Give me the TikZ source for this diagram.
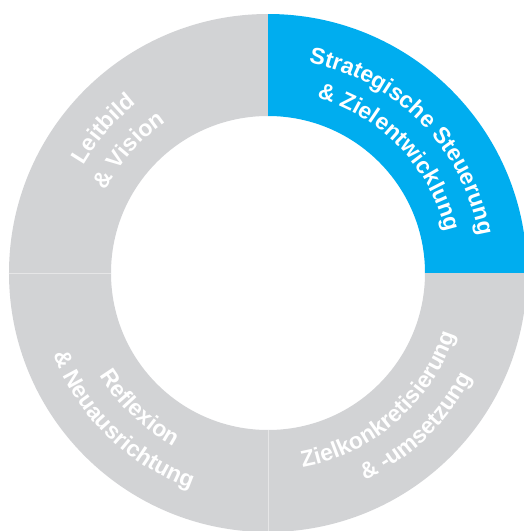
\documentclass[tikz,border=0pt]{standalone}
\usepackage{fontspec}
\setmainfont{Liberation Sans}
\usetikzlibrary{decorations.text}
\definecolor{ringgray}{RGB}{210,211,213}
\definecolor{ringblue}{RGB}{0,173,239}
\newcommand\lblfont{\bfseries\fontsize{23}{27}\selectfont}
% #1 radius, #2 start angle, #3 end angle, #4 text
\newcommand\arclabel[4]{%
  \path[decorate,decoration={text along path,text={|\lblfont|#4},text align=center,text color=white}]
    (#2:#1) arc[start angle=#2,end angle=#3,radius=#1];}
\newcommand\quadrant[2]{% start angle, colour
  \fill[#2] (#1:157pt) -- (#1:259pt) arc[start angle=#1,end angle=#1+90,radius=259pt]
    -- ({#1+90}:157pt) arc[start angle=#1+90,end angle=#1,radius=157pt] -- cycle;}
\begin{document}
\begin{tikzpicture}[x=1pt,y=1pt]
\useasboundingbox (-268pt,-258pt) rectangle (255pt,273pt);
\quadrant{0}{ringblue}
\quadrant{90}{ringgray}
\quadrant{180}{ringgray}
\quadrant{270}{ringgray}
\draw[white,opacity=0.45,line width=0.8pt] (180:157pt) -- (180:259pt);
\draw[white,opacity=0.45,line width=0.8pt] (270:157pt) -- (270:259pt);
% top right (clockwise, tops outward)
\arclabel{214pt}{104.5}{-15.5}{Strategische Steuerung}
\arclabel{182pt}{103.7}{-16.3}{{\&} Zielentwicklung}
% top left
\arclabel{214pt}{198.8}{78.8}{Leitbild}
\arclabel{182pt}{198.5}{78.5}{{\&} Vision}
% bottom left (counter-clockwise, tops inward)
\arclabel{197pt}{166.4}{286.4}{Reflexion}
\arclabel{229pt}{165.5}{285.5}{{\&} Neuausrichtung}
% bottom right
\arclabel{197pt}{-109}{11}{Zielkonkretisierung}
\arclabel{229pt}{-106}{14}{{\&} -umsetzung}
\end{tikzpicture}
\end{document}
